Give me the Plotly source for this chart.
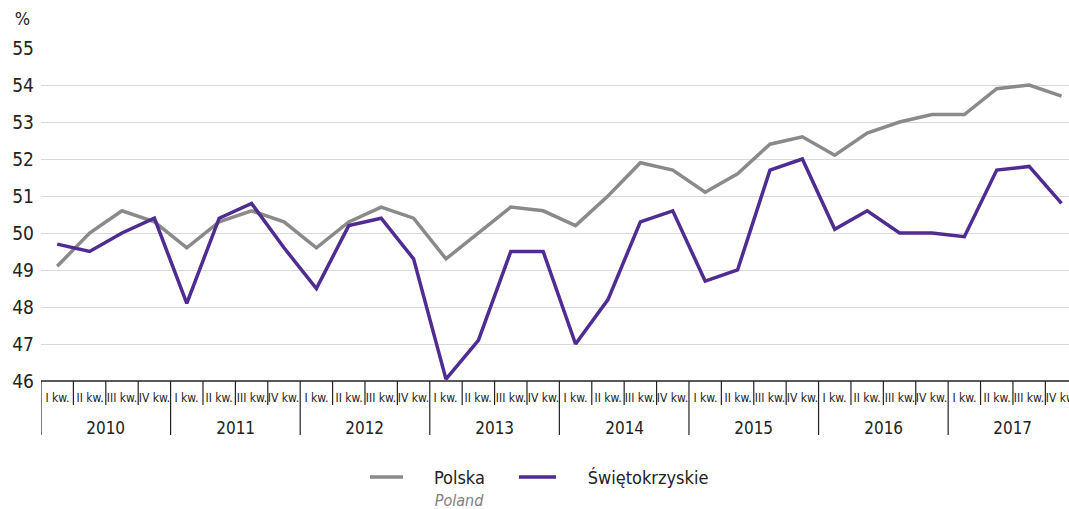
import plotly.graph_objects as go

years = ["2010", "2011", "2012", "2013", "2014", "2015", "2016", "2017"]
quarters = ["I kw.", "II kw.", "III kw.", "IV kw."]
polska = [49.1, 50.0, 50.6, 50.3,
          49.6, 50.3, 50.6, 50.3,
          49.6, 50.3, 50.7, 50.4,
          49.3, 50.0, 50.7, 50.6,
          50.2, 51.0, 51.9, 51.7,
          51.1, 51.6, 52.4, 52.6,
          52.1, 52.7, 53.0, 53.2,
          53.2, 53.9, 54.0, 53.7]
swietokrzyskie = [49.7, 49.5, 50.0, 50.4,
                  48.1, 50.4, 50.8, 49.6,
                  48.5, 50.2, 50.4, 49.3,
                  46.05, 47.1, 49.5, 49.5,
                  47.0, 48.2, 50.3, 50.6,
                  48.7, 49.0, 51.7, 52.0,
                  50.1, 50.6, 50.0, 50.0,
                  49.9, 51.7, 51.8, 50.8]
y_ticks = [46, 47, 48, 49, 50, 51, 52, 53, 54, 55]

FONT = "DejaVu Sans, sans-serif"
GRAY = "#8a8a8a"
PURPLE = "#4f2c91"

n = len(polska)
xs = list(range(n))

fig = go.Figure()
fig.add_trace(go.Scatter(x=xs, y=polska, mode="lines", name="Polska",
                         line=dict(color=GRAY, width=3.5), cliponaxis=False))
fig.add_trace(go.Scatter(x=xs, y=swietokrzyskie, mode="lines", name="Świętokrzyskie",
                         line=dict(color=PURPLE, width=3.5), cliponaxis=False))


def py(p):
    return (381 - p) / 333.0


def pxp(p):
    return (p - 41) / 1028.0


shapes = []
annotations = []
for k in range(n):
    long = (k % 4 == 0)
    shapes.append(dict(type="line", xref="x", yref="paper", x0=k - 0.5, x1=k - 0.5,
                       y0=0, y1=py(435) if long else py(405),
                       line=dict(color="#222222", width=1.2)))
for i in range(n):
    annotations.append(dict(x=i, y=py(398), xref="x", yref="paper", text=quarters[i % 4],
                            showarrow=False, font=dict(family=FONT, size=12, color="#222222"),
                            xanchor="center", yanchor="middle"))
for j, yr in enumerate(years):
    annotations.append(dict(x=j * 4 + 1.5, y=py(428), xref="x", yref="paper", text=yr,
                            showarrow=False, font=dict(family=FONT, size=17, color="#222222"),
                            xanchor="center", yanchor="middle"))
annotations.append(dict(x=pxp(22), y=py(18), xref="paper", yref="paper", text="%",
                        showarrow=False, xanchor="center", yanchor="middle",
                        font=dict(family=FONT, size=18, color="#222222")))

shapes.append(dict(type="line", xref="paper", yref="paper", x0=pxp(370), x1=pxp(403),
                   y0=py(477), y1=py(477), line=dict(color=GRAY, width=3.5)))
shapes.append(dict(type="line", xref="paper", yref="paper", x0=pxp(519), x1=pxp(556),
                   y0=py(477), y1=py(477), line=dict(color=PURPLE, width=3.5)))
annotations.append(dict(x=pxp(429), y=py(477), xref="paper", yref="paper", text="Polska",
                        showarrow=False, xanchor="left", yanchor="middle",
                        font=dict(family=FONT, size=18, color="#222222")))
annotations.append(dict(x=pxp(430), y=py(501), xref="paper", yref="paper", text="<i>Poland</i>",
                        showarrow=False, xanchor="left", yanchor="middle",
                        font=dict(family=FONT, size=16, color="#808080")))
annotations.append(dict(x=pxp(579), y=py(477), xref="paper", yref="paper", text="Świętokrzyskie",
                        showarrow=False, xanchor="left", yanchor="middle",
                        font=dict(family=FONT, size=18, color="#222222")))
shapes.append(dict(type="line", xref="paper", yref="paper", x0=0, x1=1, y0=0, y1=0,
                   line=dict(color="#222222", width=1.5)))

fig.update_layout(
    width=1069, height=509,
    margin=dict(l=41, r=0, t=48, b=128),
    paper_bgcolor="white", plot_bgcolor="white",
    showlegend=False,
    shapes=shapes, annotations=annotations,
    xaxis=dict(range=[-0.5, 31.23], showgrid=False, zeroline=False, showticklabels=False,
               ticks="", showline=False, fixedrange=True),
    yaxis=dict(range=[46, 55], tickvals=y_ticks, showgrid=True, gridcolor="#d9d9d9", gridwidth=1,
               zeroline=False, showline=False, ticks="", automargin=False, fixedrange=True,
               tickfont=dict(family=FONT, size=19, color="#222222"), ticklabelstandoff=6),
)

post = """
var s=document.createElement('style');
s.textContent='body{margin:0} svg text{font-stretch:condensed !important}';
document.head.appendChild(s);
var gd=document.getElementById('{plot_id}');
Plotly.newPlot(gd, gd.data, gd.layout, {displayModeBar:false, staticPlot:true});
"""
fig.write_html("out.html", post_script=post, config={"displayModeBar": False})
